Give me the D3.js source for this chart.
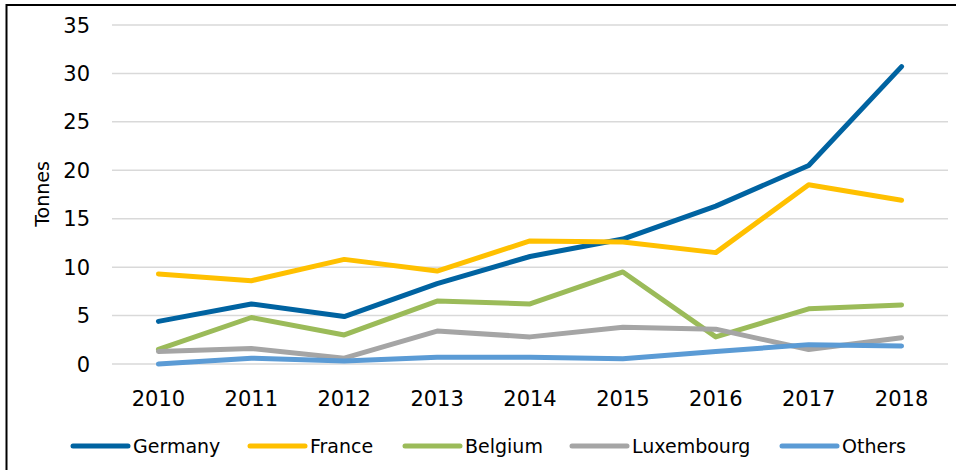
<!DOCTYPE html>
<html>
<head>
<meta charset="utf-8">
<script src="https://cdn.jsdelivr.net/npm/d3@7"></script>
<style>
  body { margin: 0; background: #fff; }
  svg text { font-family: "DejaVu Sans", sans-serif; fill: #000; }
</style>
</head>
<body>
<div id="chart"></div>
<script>
const years = ["2010", "2011", "2012", "2013", "2014", "2015", "2016", "2017", "2018"];
const germany = [4.4, 6.2, 4.9, 8.3, 11.1, 12.9, 16.3, 20.5, 30.7];
const france = [9.3, 8.6, 10.8, 9.6, 12.7, 12.6, 11.5, 18.5, 16.9];
const belgium = [1.5, 4.8, 3.0, 6.5, 6.2, 9.5, 2.8, 5.7, 6.1];
const luxembourg = [1.3, 1.6, 0.6, 3.4, 2.8, 3.8, 3.6, 1.5, 2.7];
const others = [0, 0.6, 0.3, 0.7, 0.7, 0.55, 1.3, 2.0, 1.85];
const yTicks = [0, 5, 10, 15, 20, 25, 30, 35];

const series = [
  { name: "Germany", values: germany, color: "#0063a1" },
  { name: "France", values: france, color: "#ffc000" },
  { name: "Belgium", values: belgium, color: "#9bbb59" },
  { name: "Luxembourg", values: luxembourg, color: "#a5a5a5" },
  { name: "Others", values: others, color: "#5b9bd5" }
];

const width = 956, height = 470;
const plotLeft = 112, plotRight = 948, plotTop = 25, plotBottom = 364;

const svg = d3.select("#chart").append("svg")
  .attr("width", width)
  .attr("height", height);

// outer frame (right and bottom edges fall outside the picture)
svg.append("rect")
  .attr("x", 6.5).attr("y", 5)
  .attr("width", width + 10).attr("height", height + 10)
  .attr("fill", "none")
  .attr("stroke", "#000")
  .attr("stroke-width", 2);

const x = d3.scaleBand().domain(years).range([plotLeft, plotRight]);
const y = d3.scaleLinear().domain([0, 35]).range([plotBottom, plotTop]);

// gridlines
svg.append("g").selectAll("line")
  .data(yTicks)
  .enter().append("line")
  .attr("x1", plotLeft).attr("x2", plotRight)
  .attr("y1", d => y(d)).attr("y2", d => y(d))
  .attr("stroke", "#d9d9d9")
  .attr("stroke-width", 1.5);

// y labels
svg.append("g").selectAll("text")
  .data(yTicks)
  .enter().append("text")
  .attr("x", 90)
  .attr("y", d => y(d))
  .attr("dy", "0.36em")
  .attr("text-anchor", "end")
  .attr("font-size", "21px")
  .text(d => d);

// x labels
svg.append("g").selectAll("text")
  .data(years)
  .enter().append("text")
  .attr("x", d => x(d) + x.bandwidth() / 2)
  .attr("y", 398)
  .attr("dy", "0.36em")
  .attr("text-anchor", "middle")
  .attr("font-size", "21px")
  .text(d => d);

// axis title
svg.append("text")
  .attr("transform", "translate(49,194) rotate(-90)")
  .attr("text-anchor", "middle")
  .attr("font-size", "19px")
  .text("Tonnes");

const line = d3.line()
  .x((d, i) => x(years[i]) + x.bandwidth() / 2)
  .y(d => y(d));

svg.append("g").selectAll("path")
  .data(series)
  .enter().append("path")
  .attr("d", d => line(d.values))
  .attr("fill", "none")
  .attr("stroke", d => d.color)
  .attr("stroke-width", 5)
  .attr("stroke-linecap", "round")
  .attr("stroke-linejoin", "round");

// legend
const legendX = [73, 250, 405, 572, 782];
const legend = svg.append("g").selectAll("g")
  .data(series)
  .enter().append("g")
  .attr("transform", (d, i) => "translate(" + legendX[i] + ",446)");

legend.append("line")
  .attr("x1", 0).attr("x2", 55)
  .attr("stroke", d => d.color)
  .attr("stroke-width", 5)
  .attr("stroke-linecap", "round");

legend.append("text")
  .attr("x", 60)
  .attr("dy", "0.36em")
  .attr("font-size", "19px")
  .text(d => d.name);
</script>
</body>
</html>
